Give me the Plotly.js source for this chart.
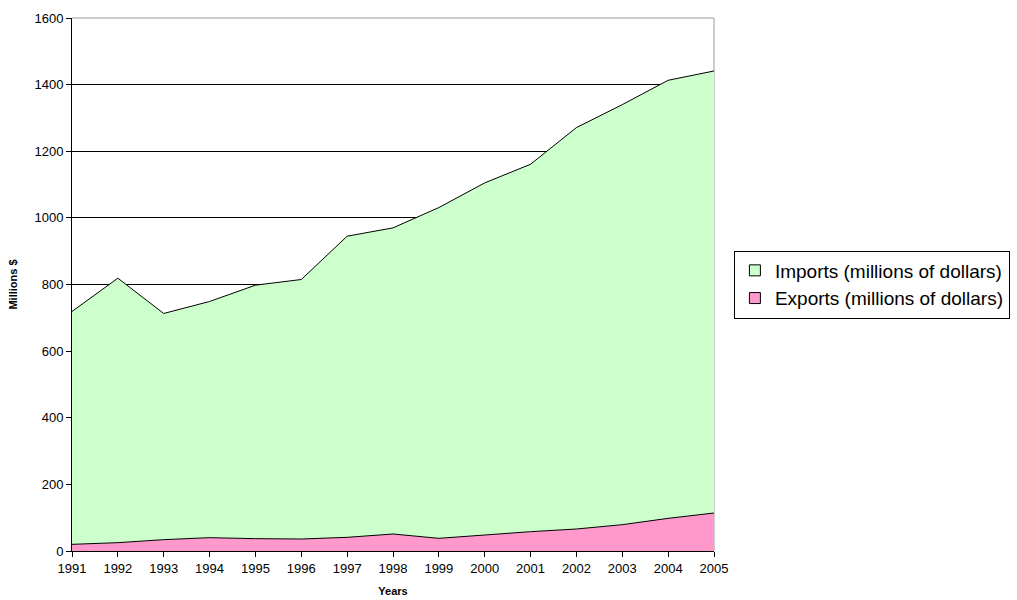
<!DOCTYPE html>
<html>
<head>
<meta charset="utf-8">
<script src="https://cdn.plot.ly/plotly-3.0.1.min.js"></script>
<style>html,body{margin:0;padding:0;background:#fff;}#chart{width:1017px;height:600px;}</style>
</head>
<body>
<div id="chart"></div>
<script>
const years = [1991,1992,1993,1994,1995,1996,1997,1998,1999,2000,2001,2002,2003,2004,2005];
const imports = [719,819,713,749,798,815,945,970,1031,1105,1161,1271,1340,1413,1441];
const exports = [20,25,34,40,37,36,41,51,38,49,58,66,79,98,114];
const yTicks = [0,200,400,600,800,1000,1200,1400,1600];
const seriesNames = ['Imports (millions of dollars)', 'Exports (millions of dollars)'];
const seriesColors = ['#CCFFCC', '#FF99CC'];

const traces = [
  {x: years, y: imports, type: 'scatter', mode: 'lines', fill: 'tozeroy',
   name: seriesNames[0], fillcolor: seriesColors[0], showlegend: false,
   line: {color: '#000000', width: 1}},
  {x: years, y: exports, type: 'scatter', mode: 'lines', fill: 'tozeroy',
   name: seriesNames[1], fillcolor: seriesColors[1], showlegend: false,
   line: {color: '#000000', width: 1}}
];
// legend-only square swatches
seriesNames.forEach((n, i) => {
  traces.push({x: [null], y: [null], type: 'scatter', mode: 'markers', name: n,
    marker: {symbol: 'square', size: 11, color: seriesColors[i], line: {color: '#000', width: 1}}});
});

const layout = {
  width: 1017, height: 600,
  margin: {l: 72, r: 303, t: 18, b: 49, autoexpand: false},
  paper_bgcolor: '#ffffff', plot_bgcolor: '#ffffff',
  font: {family: 'Arial, Liberation Sans, sans-serif', color: '#000', size: 13},
  showlegend: true,
  legend: {x: 1.031, y: 0.5, xanchor: 'left', yanchor: 'middle',
    bordercolor: '#000', borderwidth: 1, bgcolor: '#fff',
    font: {size: 19}, traceorder: 'normal', tracegroupgap: 0, itemwidth: 30},
  xaxis: {
    range: [1991, 2005], tickvals: years, ticktext: years.map(String),
    showgrid: false, zeroline: false, showline: true, linecolor: '#000', linewidth: 1,
    ticks: 'outside', ticklen: 5, tickcolor: '#000',
    tickfont: {size: 13},
    title: {text: '<b>Years</b>', font: {size: 11}, standoff: 12}
  },
  yaxis: {
    range: [0, 1600], tickvals: yTicks,
    showgrid: true, gridcolor: '#000', gridwidth: 1,
    zeroline: false, showline: true, linecolor: '#000', linewidth: 1,
    ticks: 'outside', ticklen: 5, tickcolor: '#000',
    tickfont: {size: 13},
    title: {text: '<b>Millions $</b>', font: {size: 11}, standoff: 14}
  },
  shapes: [
    {type: 'line', xref: 'paper', yref: 'paper', x0: 0, x1: 1, y0: 1, y1: 1,
     line: {color: '#999999', width: 1}, layer: 'above'},
    {type: 'line', xref: 'paper', yref: 'paper', x0: 1, x1: 1, y0: 0, y1: 1,
     line: {color: '#999999', width: 1}, layer: 'below'}
  ]
};

Plotly.newPlot('chart', traces, layout, {displayModeBar: false, staticPlot: true});
</script>
</body>
</html>
